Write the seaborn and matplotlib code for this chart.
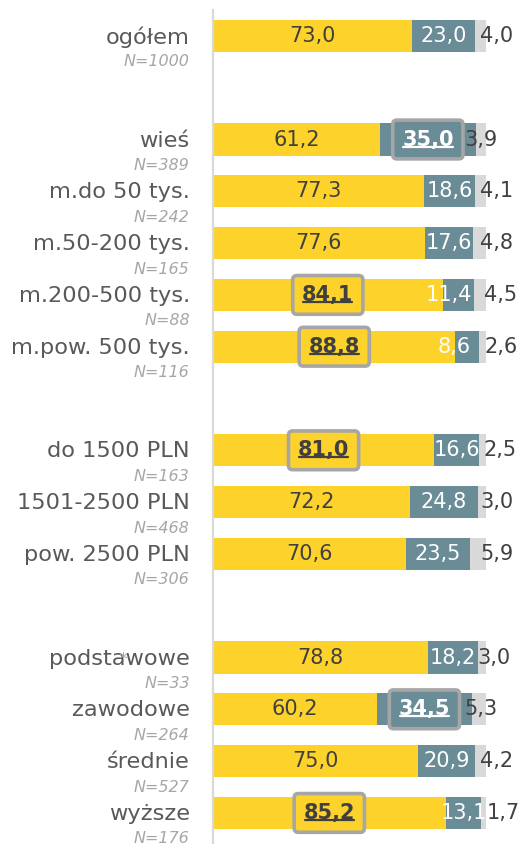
import matplotlib
matplotlib.use("Agg")
import matplotlib.pyplot as plt
import seaborn as sns
import pandas as pd
from matplotlib.lines import Line2D

# --- data -------------------------------------------------------------
categories = ["ogółem", "wieś", "m.do 50 tys.", "m.50-200 tys.", "m.200-500 tys.",
              "m.pow. 500 tys.", "do 1500 PLN", "1501-2500 PLN", "pow. 2500 PLN",
              "podstawowe", "zawodowe", "średnie", "wyższe"]
sample_n = ["N=1000", "N=389", "N=242", "N=165", "N=88", "N=116",
            "N=163", "N=468", "N=306", "N=33", "N=264", "N=527", "N=176"]
positions = [0, 2, 3, 4, 5, 6, 8, 9, 10, 12, 13, 14, 15]
yes_vals = [73.0, 61.2, 77.3, 77.6, 84.1, 88.8, 81.0, 72.2, 70.6, 78.8, 60.2, 75.0, 85.2]
no_vals = [23.0, 35.0, 18.6, 17.6, 11.4, 8.6, 16.6, 24.8, 23.5, 18.2, 34.5, 20.9, 13.1]
dk_vals = [4.0, 3.9, 4.1, 4.8, 4.5, 2.6, 2.5, 3.0, 5.9, 3.0, 5.3, 4.2, 1.7]
# highlighted (boxed) values: segment 0 = yes, 1 = no
highlights = {1: 1, 4: 0, 5: 0, 6: 0, 10: 1, 12: 0}

# label placement tweaks (in percentage points)
no_label_shift = {4: -3.3, 5: -4.8}
dk_label_x = {1: 98.0, 10: 98.0, 4: 105.5, 5: 105.5, 6: 105.0, 9: 103.0, 12: 106.5}

YELLOW = "#FDD22B"
TEAL = "#6A8C96"
GREY = "#D9D9D9"
TXT = "#404040"

df = pd.DataFrame({
    "pos": positions,
    "yes": yes_vals,
    "yes_no": [a + b for a, b in zip(yes_vals, no_vals)],
    "total": [a + b + c for a, b, c in zip(yes_vals, no_vals, dk_vals)],
})

sns.set_theme(style="white")
plt.rcParams["font.family"] = ["DejaVu Sans"]

fig = plt.figure(figsize=(5.24, 8.44), dpi=100)
ax = fig.add_axes([213 / 524, 0.0, 273 / 524, 1 - 10 / 844])

kw = dict(y="pos", orient="h", native_scale=True, width=0.62, ax=ax,
          saturation=1, linewidth=0)
sns.barplot(data=df, x="total", color=GREY, **kw)
sns.barplot(data=df, x="yes_no", color=TEAL, **kw)
sns.barplot(data=df, x="yes", color=YELLOW, **kw)

ax.set_xlim(0, 100)
ax.set_ylim(15.6, -0.5)
ax.set_xticks([])
ax.set_yticks([])
ax.set_xlabel("")
ax.set_ylabel("")
for s in ["top", "right", "bottom"]:
    ax.spines[s].set_visible(False)
ax.spines["left"].set_color("#D9D9D9")
ax.spines["left"].set_linewidth(1.6)

trans = ax.get_yaxis_transform()
fs_val = 15
underlined = []
box_kw = dict(boxstyle="round,pad=0.45,rounding_size=0.2", edgecolor="#A6A6A6",
              linewidth=2.6)
for i, p in enumerate(positions):
    y, n, d = yes_vals[i], no_vals[i], dk_vals[i]
    # left-hand category labels
    ax.text(-0.085, p + 0.02, categories[i], transform=trans, ha="right", va="center",
            fontsize=16.2, color="#595959")
    ax.text(-0.085, p + 0.5, sample_n[i], transform=trans, ha="right", va="center",
            fontsize=11.5, color="#A6A6A6", style="italic")

    hl = highlights.get(i)
    # yes segment label
    if hl == 0:
        t = ax.text(y / 2, p, f"{y:.1f}".replace(".", ","), ha="center", va="center",
                    fontsize=fs_val, fontweight="bold", color=TXT,
                    bbox=dict(facecolor=YELLOW, **box_kw))
        underlined.append((t, TXT))
    else:
        ax.text(y / 2, p, f"{y:.1f}".replace(".", ","), ha="center", va="center",
                fontsize=fs_val, color=TXT)
    # no segment label
    xn = y + n / 2 + no_label_shift.get(i, 0)
    if hl == 1:
        t = ax.text(xn, p, f"{n:.1f}".replace(".", ","), ha="center", va="center",
                    fontsize=fs_val, fontweight="bold", color="white",
                    bbox=dict(facecolor=TEAL, **box_kw))
        underlined.append((t, "white"))
    else:
        ax.text(xn, p, f"{n:.1f}".replace(".", ","), ha="center", va="center",
                fontsize=fs_val, color="white")
    # don't-know label
    ax.text(dk_label_x.get(i, 104.0), p, f"{d:.1f}".replace(".", ","), ha="center",
            va="center", fontsize=fs_val, color=TXT, clip_on=False)

# stray asterisk over "podstawowe"
ax.text(-0.33, 12.05, "*", transform=trans, ha="center", va="center",
        fontsize=13, color="#A6A6A6")

# underline the highlighted values
fig.canvas.draw()
renderer = fig.canvas.get_renderer()
inv = fig.transFigure.inverted()
for t, col in underlined:
    bb = t.get_window_extent(renderer)
    x0, y0 = inv.transform((bb.x0 + 1, bb.y0 + 3))
    x1, _ = inv.transform((bb.x1 - 1, bb.y0 + 3))
    fig.add_artist(Line2D([x0, x1], [y0, y0], color=col, linewidth=1.6,
                          transform=fig.transFigure))

fig.savefig("out.png", dpi=100)
